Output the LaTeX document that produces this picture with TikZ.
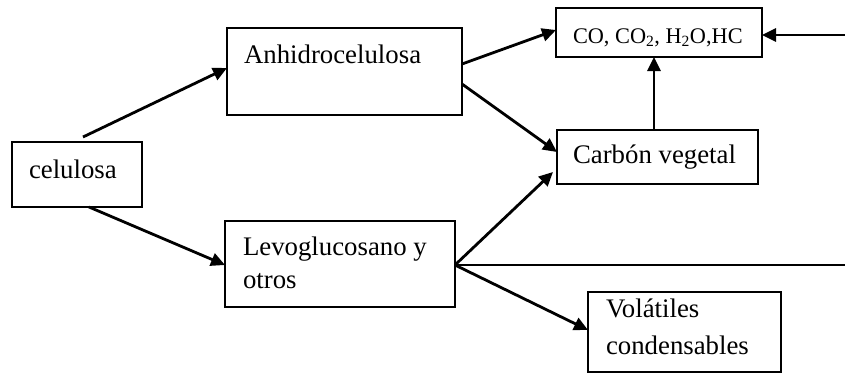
\documentclass[tikz,border=0pt]{standalone}
\usepackage{fontspec}
\setmainfont{Liberation Serif}
\usetikzlibrary{arrows.meta,calc}
\tikzset{
  box/.style={draw, line width=2.6pt, inner sep=0pt, outer sep=0pt},
  txt/.style={inner sep=0pt, outer sep=0pt, anchor=base west, font=\fontsize{26.8}{33}\selectfont},
  smalltxt/.style={inner sep=0pt, outer sep=0pt, anchor=base west, font=\fontsize{22.3}{27}\selectfont},
  conn/.style={line width=2.8pt, -{Triangle[length=14pt,width=13pt]}},
  plain/.style={line width=2.8pt}
}
\begin{document}
\begin{tikzpicture}[x=1pt,y=-1pt]
\useasboundingbox (0,0) rectangle (845,373);
% boxes
\node[box, minimum width=130pt, minimum height=65pt] (cel) at (77,174.5) {};
\node[box, minimum width=235pt, minimum height=87pt] (anh) at (344.5,71.5) {};
\node[box, minimum width=206pt, minimum height=49pt] (co) at (659,32.5) {};
\node[box, minimum width=201pt, minimum height=54pt] (car) at (657.5,157) {};
\node[box, minimum width=230pt, minimum height=86pt] (levo) at (340,264) {};
\node[box, minimum width=193pt, minimum height=80pt] (vol) at (684.5,332) {};
% texts
\node[txt] (tcel) at (29,178) {celulosa};
\node[txt] (tanh) at (244,63) {Anhidrocelulosa};
\node[smalltxt] (tco) at (573,43) {CO, CO\textsubscript{2}, H\textsubscript{2}O,HC};
\node[txt] (tcar) at (573,163) {Carbón vegetal};
\node[txt] (tlevo1) at (243,255) {Levoglucosano y};
\node[txt] (tlevo2) at (243,288) {otros};
\node[txt] (tvol1) at (606,317) {Volátiles};
\node[txt] (tvol2) at (606,354) {condensables};
% connector end points
\coordinate (edgeA) at (845,265);
\coordinate (edgeB) at (845,35);
\coordinate (celTop) at ($(cel.north west)+(71,-5)$);
\coordinate (celBot) at ($(cel.south west)+(77,0)$);
\coordinate (anhIn) at ($(anh.north west)+(0,40)$);
\coordinate (anhOutA) at ($(anh.north east)+(0,36)$);
\coordinate (anhOutB) at ($(anh.north east)+(0,56)$);
\coordinate (coInA) at ($(co.north west)+(0,22)$);
\coordinate (carInA) at ($(car.north west)+(0,22)$);
\coordinate (carInB) at ($(car.north west)+(-4,42)$);
\coordinate (carTop) at ($(car.north west)+(97,0)$);
\coordinate (coBot) at (carTop |- co.south);
\coordinate (coRight) at (edgeB -| co.east);
\coordinate (levoIn) at ($(levo.north west)+(0,44)$);
\coordinate (levoOut) at ($(levo.north east)+(0,44)$);
\coordinate (volIn) at ($(vol.north west)+(0,38)$);
% connectors
\draw[conn] (celTop) -- (anhIn);
\draw[conn] (celBot) -- (levoIn);
\draw[conn] (anhOutA) -- (coInA);
\draw[conn] (anhOutB) -- (carInA);
\draw[conn] (levoOut) -- (carInB);
\draw[plain] (levoOut) -- (edgeA);
\draw[conn] (levoOut) -- (volIn);
\draw[conn] (carTop) -- (coBot);
\draw[conn] (edgeB) -- (coRight);
\end{tikzpicture}
\end{document}
